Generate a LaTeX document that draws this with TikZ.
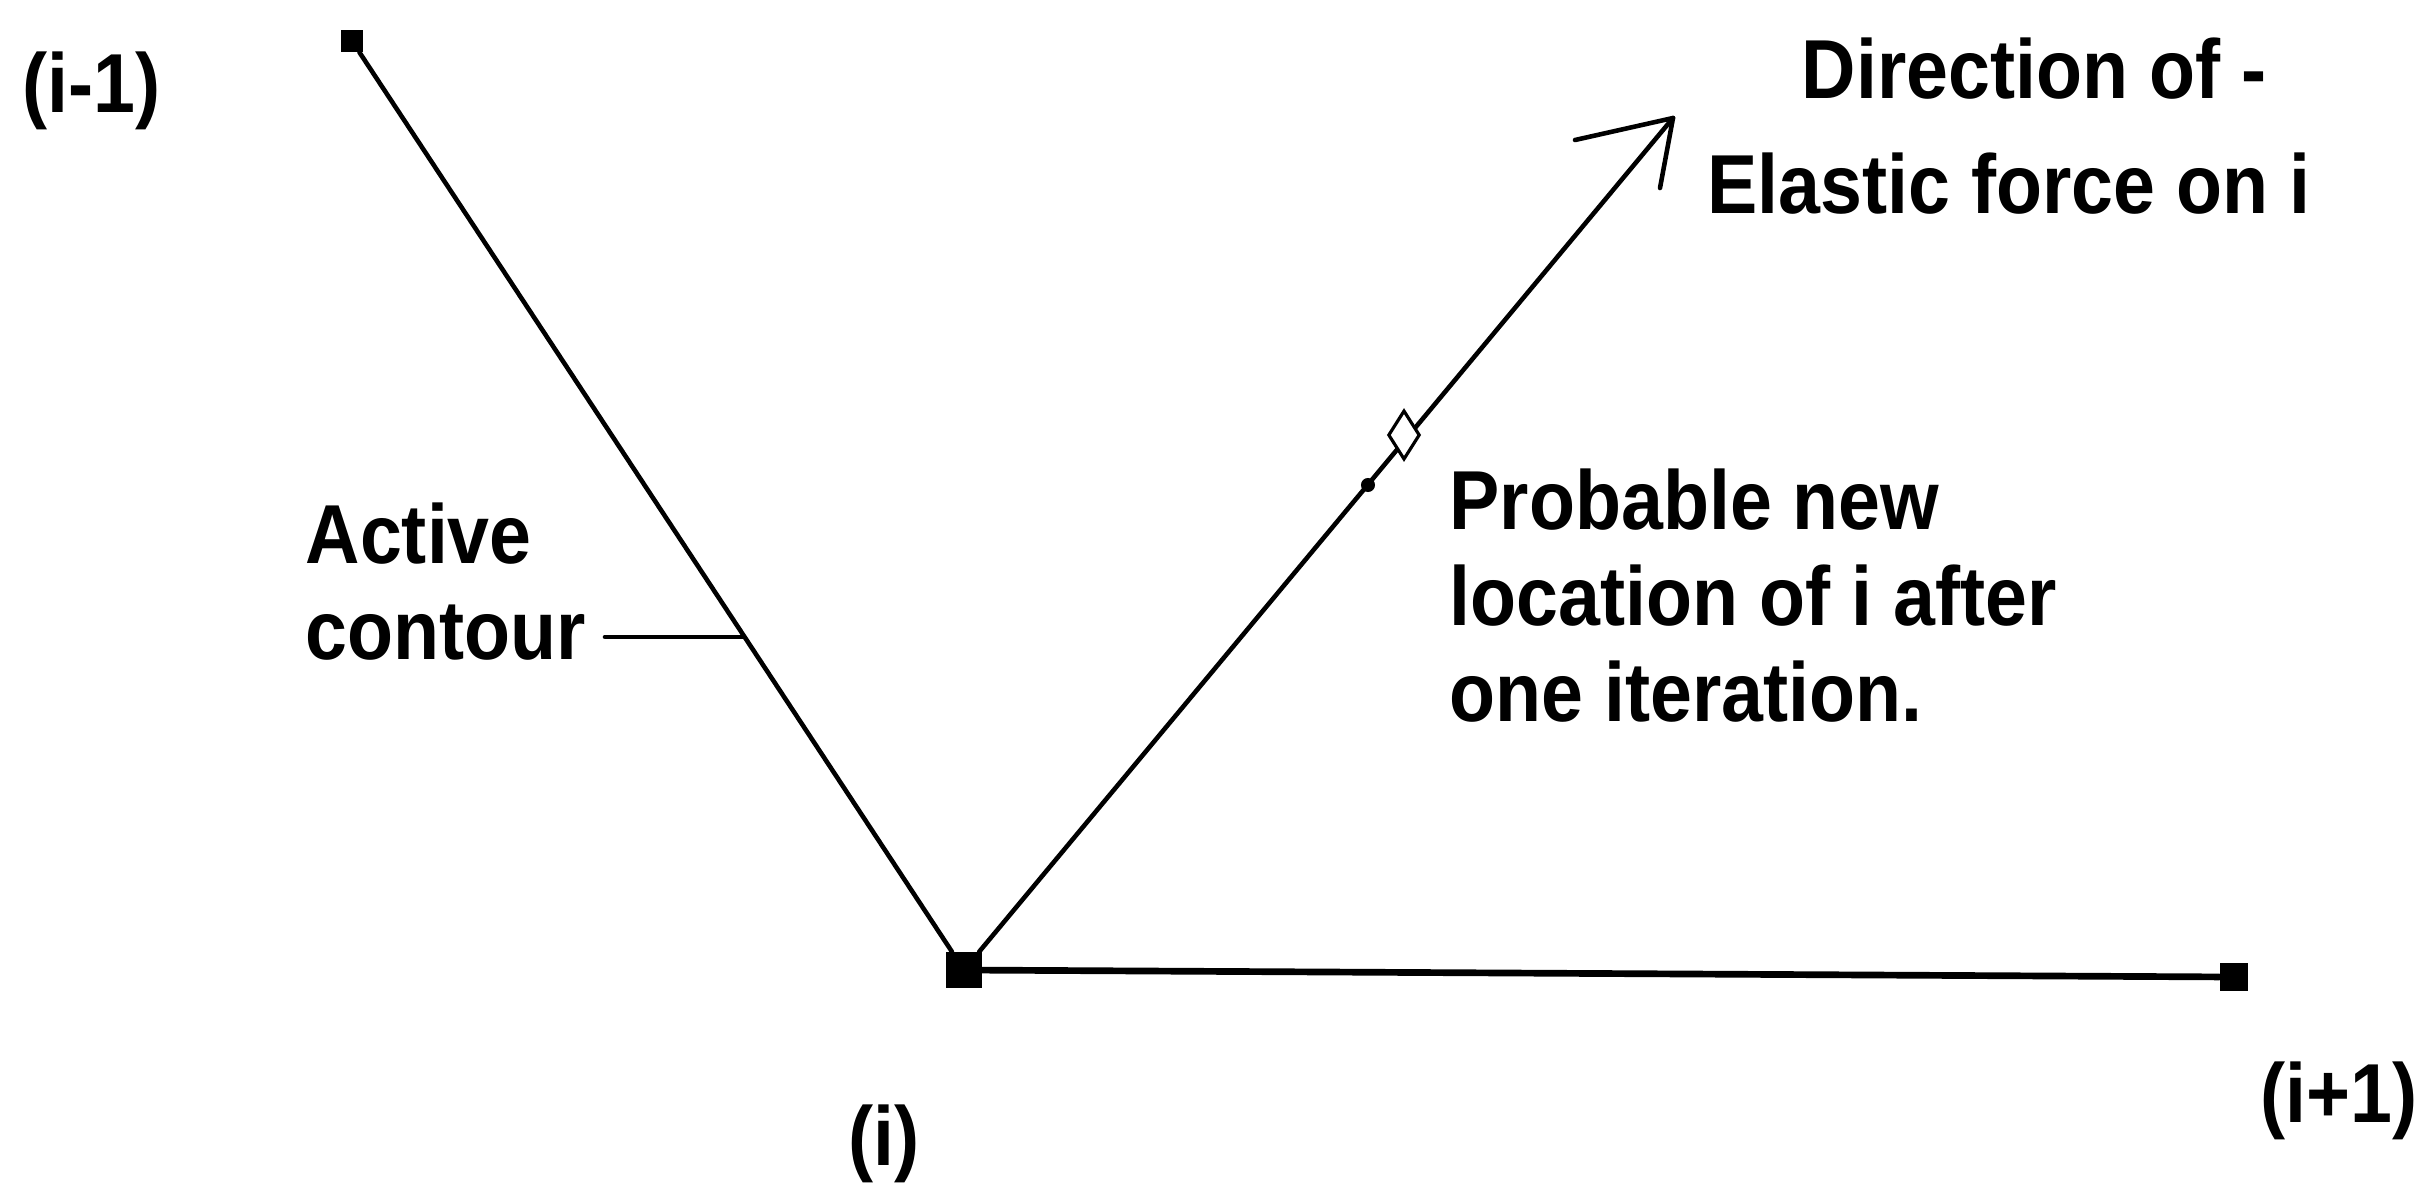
\documentclass[tikz,border=0pt]{standalone}
\usepackage{fontspec}
\newfontfamily\lblfont{Liberation Sans}[FakeStretch=0.9]
\usetikzlibrary{shapes.geometric}

\tikzset{
  vertex/.style={fill=black, inner sep=0, minimum size=#1},
  contour/.style={line width=1.3pt, line cap=round, line join=round},
  lbl/.style={font=\lblfont\bfseries\fontsize{23.8}{27.3}\selectfont, inner sep=0},
}

\begin{document}
\begin{tikzpicture}[x=0.01cm, y=-0.01cm]
  \useasboundingbox (0,0) rectangle (2423,1193);
  % contour points
  \node[vertex=6pt] (pm1) at (352,41) {};
  \node[vertex=10pt] (pi) at (964,970) {};
  \node[vertex=8pt] (pp1) at (2234,977) {};
  \coordinate (tip) at (1673,118);
  % active contour
  \draw[contour] (pm1) -- (pi);
  \draw[contour, line width=1.9pt] (pi) -- (pp1);
  % elastic force direction
  \draw[contour] (pi) -- (tip);
  \draw[contour] (tip) -- ++(-98,22);
  \draw[contour] (tip) -- ++(-13,70);
  \node[diamond, draw, fill=white, line width=0.9pt, inner sep=0,
        minimum width=9pt, minimum height=14pt] (newloc) at (1404,435) {};
  \node[circle, fill=black, inner sep=0, minimum size=4pt] (step) at (1368,485) {};
  % labels
  \node[lbl, anchor=base west] (pm1lbl) at (22,112) {(i-1)};
  \node[lbl, anchor=base west] (pilbl) at (848,1165) {(i)};
  \node[lbl, anchor=base west] (pp1lbl) at (2260,1122) {(i+1)};
  \node[lbl, anchor=base west] (dirlbl) at (1801,98) {Direction of -};
  \node[lbl, anchor=base west] (forcelbl) at (1707,213) {Elastic force on i};
  \node[lbl, anchor=north west, align=left] (newloclbl) at (1449,468)
    {Probable new\\location of i after\\one iteration.};
  \node[lbl, anchor=north west, align=left] (contourlbl) at (305,502)
    {Active\\contour};
  % leader to contour
  \coordinate (leadstart) at (605,637);
  \coordinate (leadend) at (742,637);
  \draw[contour] (leadstart) -- (leadend);
\end{tikzpicture}
\end{document}
